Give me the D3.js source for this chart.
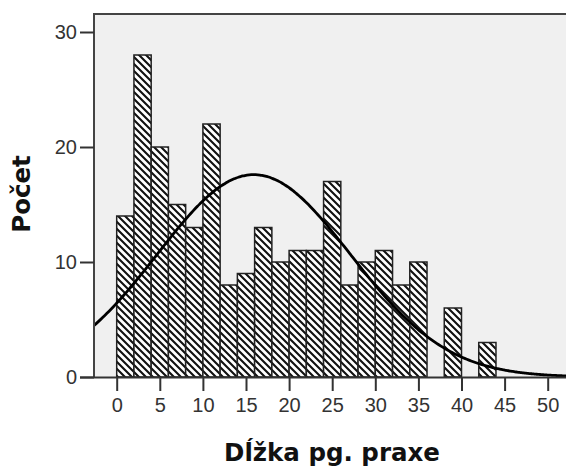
<!DOCTYPE html>
<html>
<head>
<meta charset="utf-8">
<script src="https://cdn.jsdelivr.net/npm/d3@7"></script>
<style>
  html, body { margin: 0; padding: 0; background: #fff; }
  svg { display: block; }
</style>
</head>
<body>
<script>
// histogram bins (lower edge, width 2) and counts
const binStarts = [0, 2, 4, 6, 8, 10, 12, 14, 16, 18, 20, 22, 24, 26, 28, 30, 32, 34, 36, 38, 40, 42]
const counts = [14, 28, 20, 15, 13, 22, 8, 9, 13, 10, 11, 11, 17, 8, 10, 11, 8, 10, 0, 6, 0, 3]
const binWidth = 2
const xTicks = [0, 5, 10, 15, 20, 25, 30, 35, 40, 45, 50]
const yTicks = [0, 10, 20, 30]
// normal curve parameters (fitted by the stats package)
const fitMean = 15.9
const fitSd = 11.2

const xLabel = 'Dĺžka pg. praxe'
const yLabel = 'Počet'

const width = 566
const height = 468
const frame = {left: 94, top: 14, right: 568, bottom: 377}

const translate = (dx, dy) => `translate(${dx}, ${dy})`

const svg = d3.select('body').append('svg')
  .attr('width', width)
  .attr('height', height)
  .attr('viewBox', `0 0 ${width} ${height}`)

const hs = 7
svg.append('defs').html(`
  <pattern id='hatch' patternUnits='userSpaceOnUse' width='${hs}' height='${hs}'>
    <rect width='${hs}' height='${hs}' fill='#fff'/>
    <path d='M-1,${hs - 1} l2,2 M0,0 l${hs},${hs} M${hs - 1},-1 l2,2' stroke='#111' stroke-width='2.1'/>
  </pattern>
  <clipPath id='plot'><rect x='${frame.left}' y='${frame.top}' width='${frame.right - frame.left}' height='${frame.bottom - frame.top}'/></clipPath>
`)

const x = d3.scaleLinear().domain([0, 50]).range([116.7, 547.7])
const y = d3.scaleLinear().domain([0, 30]).range([frame.bottom, 32])

// plot background
svg.append('rect')
  .attr('x', frame.left)
  .attr('y', frame.top)
  .attr('width', frame.right - frame.left)
  .attr('height', frame.bottom - frame.top)
  .attr('fill', '#f0f0f0')

const rows = binStarts.map((b, i) => ({start: b, count: counts[i]})).filter(d => d.count > 0)

svg.append('g')
  .selectAll('rect')
  .data(rows)
  .join('rect')
    .attr('x', d => x(d.start))
    .attr('y', d => y(d.count))
    .attr('width', d => x(d.start + binWidth) - x(d.start))
    .attr('height', d => y(0) - y(d.count))
    .attr('fill', 'url(#hatch)')
    .attr('stroke', '#222')
    .attr('stroke-width', 1.5)

// normal curve
const n = d3.sum(counts)
const density = v => n * binWidth / (fitSd * Math.sqrt(2 * Math.PI)) * Math.exp(-0.5 * ((v - fitMean) / fitSd) ** 2)
const xs = d3.range(x.invert(frame.left), x.invert(frame.right) + 0.25, 0.25)

svg.append('path')
  .datum(xs)
  .attr('clip-path', 'url(#plot)')
  .attr('fill', 'none')
  .attr('stroke', '#000')
  .attr('stroke-width', 2.8)
  .attr('d', d3.line().x(v => x(v)).y(v => y(density(v))).curve(d3.curveBasis))

// frame lines
svg.append('path')
  .attr('d', `M${frame.left},${frame.bottom} V${frame.top} H${frame.right}`)
  .attr('fill', 'none')
  .attr('stroke', '#444')
  .attr('stroke-width', 2)

// axes
const xAxis = svg.append('g')
  .attr('transform', translate(0, frame.bottom))
  .call(d3.axisBottom(x).tickValues(xTicks).tickSize(14).tickPadding(6).tickSizeOuter(0))
xAxis.select('.domain').attr('d', `M80,0.5 H${width}`).attr('stroke', '#333').attr('stroke-width', 2)

const yAxis = svg.append('g')
  .attr('transform', translate(frame.left, 0))
  .call(d3.axisLeft(y).tickValues(yTicks).tickSize(14).tickPadding(3))
yAxis.select('.domain').remove()

svg.selectAll('.tick line').attr('stroke', '#333').attr('stroke-width', 2)
svg.selectAll('.tick text')
  .attr('font-family', 'Liberation Sans, Arial, sans-serif')
  .attr('font-size', 20)
  .attr('fill', '#333')
xAxis.selectAll('.tick text').attr('dy', '0.75em')

// titles
svg.append('text')
  .attr('x', 332)
  .attr('y', 461)
  .attr('text-anchor', 'middle')
  .attr('font-family', 'DejaVu Sans, sans-serif')
  .attr('font-weight', 'bold')
  .attr('font-size', 24.5)
  .attr('fill', '#111')
  .text(xLabel)

svg.append('text')
  .attr('transform', `${translate(30, 194)} rotate(-90)`)
  .attr('text-anchor', 'middle')
  .attr('font-family', 'DejaVu Sans, sans-serif')
  .attr('font-weight', 'bold')
  .attr('font-size', 24.5)
  .attr('fill', '#111')
  .text(yLabel)
</script>
</body>
</html>
